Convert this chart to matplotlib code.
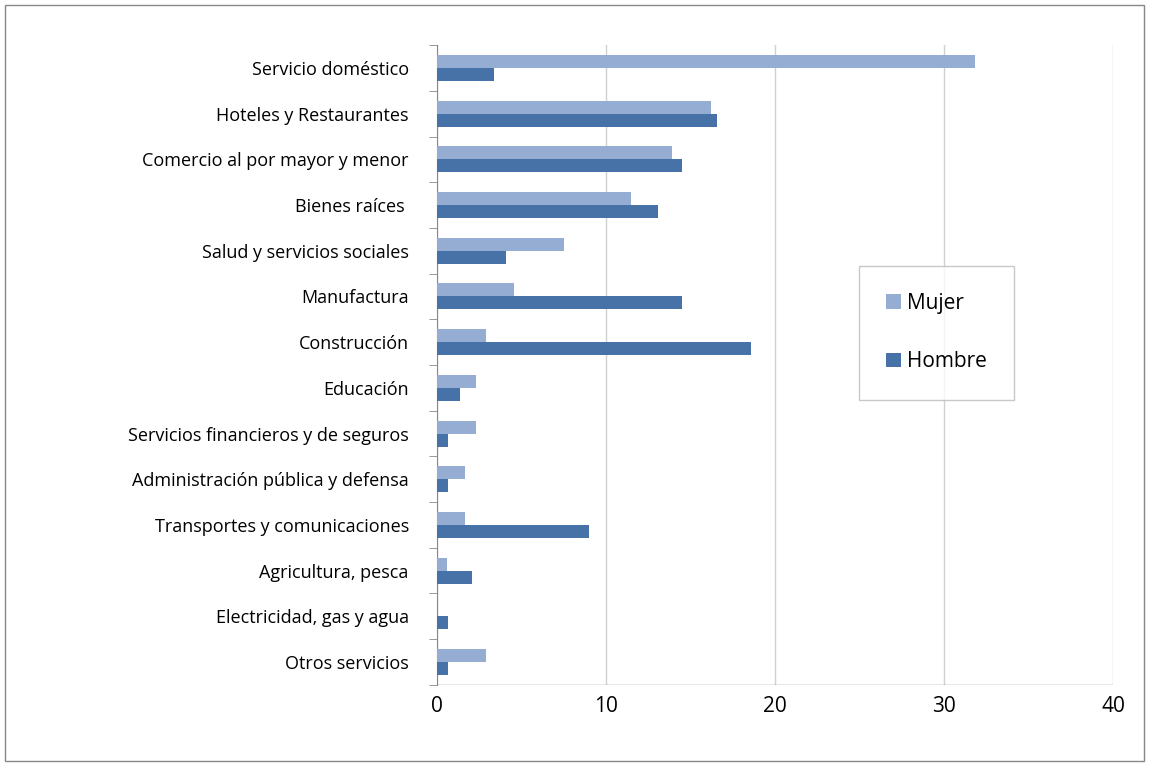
import numpy as np
import matplotlib
matplotlib.use("Agg")
import matplotlib.pyplot as plt
from matplotlib.patches import Rectangle

categories = ["Servicio doméstico", "Hoteles y Restaurantes", "Comercio al por mayor y menor",
              "Bienes raíces ", "Salud y servicios sociales", "Manufactura", "Construcción",
              "Educación", "Servicios financieros y de seguros", "Administración pública y defensa",
              "Transportes y comunicaciones", "Agricultura, pesca", "Electricidad, gas y agua",
              "Otros servicios"]
mujer = [31.8, 16.2, 13.9, 11.5, 7.5, 4.6, 2.9, 2.3, 2.3, 1.7, 1.7, 0.6, 0.0, 2.9]
hombre = [3.4, 16.6, 14.5, 13.1, 4.1, 14.5, 18.6, 1.4, 0.7, 0.7, 9.0, 2.1, 0.7, 0.7]
xticks = [0, 10, 20, 30, 40]

C_M = "#95ACD3"
C_H = "#4672A8"

plt.rcParams["font.family"] = ["Open Sans", "DejaVu Sans"]

fig = plt.figure(figsize=(11.49, 7.66), dpi=100)
ax = fig.add_axes([0.380, 0.106, 0.589, 0.835])
fig.patches.append(Rectangle((0.004, 0.006), 0.992, 0.988, transform=fig.transFigure,
                             fill=False, edgecolor="#888888", lw=1))

y = np.arange(len(categories))
h = 0.285
ax.barh(y - h / 2, mujer, height=h, color=C_M, label="Mujer", zorder=3)
ax.barh(y + h / 2, hombre, height=h, color=C_H, label="Hombre", zorder=3)

ax.set_ylim(len(categories) - 0.5, -0.5)
ax.set_xlim(0, 40)
ax.set_xticks(xticks)
ax.tick_params(axis="x", labelsize=15, length=0, pad=8)
ax.set_yticks(y)
ax.set_yticklabels(categories, fontsize=13)
ax.tick_params(axis="y", length=0, pad=20)
ax.set_yticks(np.arange(len(categories) + 1) - 0.5, minor=True)
ax.tick_params(axis="y", which="minor", length=6, direction="out", color="#888888")
ax.grid(axis="x", color="#d0d0d0", lw=1, zorder=0)
for s in ["top", "right", "bottom"]:
    ax.spines[s].set_visible(False)
ax.spines["left"].set_color("#888888")
ax.axhline(len(categories) - 0.5, color="#888888", lw=1)

leg = ax.legend(loc="upper left", bbox_to_anchor=(0.624, 0.655), fontsize=15,
                frameon=True, fancybox=False, edgecolor="#bbbbbb",
                handlelength=0.7, handleheight=0.7, labelspacing=1.8,
                borderpad=1.3, handletextpad=0.3, borderaxespad=0)
leg.get_frame().set_linewidth(1)

fig.savefig("out.png", dpi=100, facecolor="white")
